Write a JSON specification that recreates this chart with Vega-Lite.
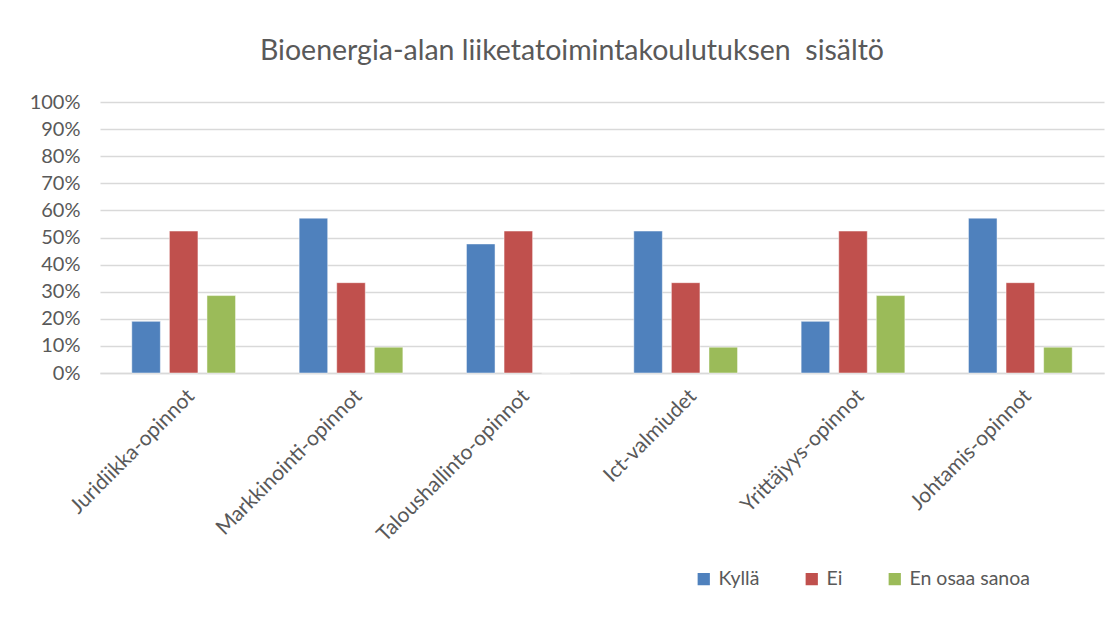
{
  "$schema": "https://vega.github.io/schema/vega-lite/v6.json",
  "autosize": "none",
  "width": 1004,
  "height": 271,
  "padding": {"left": 100, "top": 102, "right": 16, "bottom": 252},
  "background": "white",
  "title": {
    "text": "Bioenergia-alan liiketatoimintakoulutuksen\u00a0 sisältö",
    "font": "Lato",
    "fontSize": 28.5,
    "fontWeight": "normal",
    "color": "#595959",
    "anchor": "middle",
    "dx": -30,
    "offset": 27
  },
  "data": {
    "values": [
      {"kategoria": "Juridiikka-opinnot", "vastaus": "Kyllä", "osuus": 0.1905},
      {"kategoria": "Juridiikka-opinnot", "vastaus": "Ei", "osuus": 0.5238},
      {"kategoria": "Juridiikka-opinnot", "vastaus": "En osaa sanoa", "osuus": 0.2857},
      {"kategoria": "Markkinointi-opinnot", "vastaus": "Kyllä", "osuus": 0.5714},
      {"kategoria": "Markkinointi-opinnot", "vastaus": "Ei", "osuus": 0.3333},
      {"kategoria": "Markkinointi-opinnot", "vastaus": "En osaa sanoa", "osuus": 0.0952},
      {"kategoria": "Taloushallinto-opinnot", "vastaus": "Kyllä", "osuus": 0.4762},
      {"kategoria": "Taloushallinto-opinnot", "vastaus": "Ei", "osuus": 0.5238},
      {"kategoria": "Taloushallinto-opinnot", "vastaus": "En osaa sanoa", "osuus": 0},
      {"kategoria": "Ict-valmiudet", "vastaus": "Kyllä", "osuus": 0.5238},
      {"kategoria": "Ict-valmiudet", "vastaus": "Ei", "osuus": 0.3333},
      {"kategoria": "Ict-valmiudet", "vastaus": "En osaa sanoa", "osuus": 0.0952},
      {"kategoria": "Yrittäjyys-opinnot", "vastaus": "Kyllä", "osuus": 0.1905},
      {"kategoria": "Yrittäjyys-opinnot", "vastaus": "Ei", "osuus": 0.5238},
      {"kategoria": "Yrittäjyys-opinnot", "vastaus": "En osaa sanoa", "osuus": 0.2857},
      {"kategoria": "Johtamis-opinnot", "vastaus": "Kyllä", "osuus": 0.5714},
      {"kategoria": "Johtamis-opinnot", "vastaus": "Ei", "osuus": 0.3333},
      {"kategoria": "Johtamis-opinnot", "vastaus": "En osaa sanoa", "osuus": 0.0952}
    ]
  },
  "mark": {"type": "bar", "stroke": "white", "strokeWidth": 0.8, "strokeOpacity": 0.6},
  "encoding": {
    "x": {
      "field": "kategoria",
      "type": "nominal",
      "sort": null,
      "title": null,
      "scale": {"paddingInner": 0.38, "paddingOuter": 0.19},
      "axis": {
        "labelAngle": -45,
        "labelFont": "Lato",
        "labelFontSize": 21,
        "labelColor": "#595959",
        "labelPadding": 12,
        "labelLimit": 0,
        "labelOverlap": false,
        "ticks": false,
        "domain": true,
        "domainColor": "#d9d9d9",
        "domainWidth": 1.5,
        "grid": false
      }
    },
    "xOffset": {
      "field": "vastaus",
      "type": "nominal",
      "sort": ["Kyllä", "Ei", "En osaa sanoa"],
      "scale": {"paddingInner": 0.24, "paddingOuter": 0}
    },
    "y": {
      "field": "osuus",
      "type": "quantitative",
      "title": null,
      "scale": {"domain": [0, 1], "nice": false},
      "axis": {
        "format": ".0%",
        "values": [0, 0.1, 0.2, 0.3, 0.4, 0.5, 0.6, 0.7, 0.8, 0.9, 1],
        "labelFont": "Lato",
        "labelFontSize": 20,
        "labelColor": "#595959",
        "labelPadding": 20,
        "ticks": false,
        "domain": false,
        "grid": true,
        "gridColor": "#d9d9d9",
        "gridWidth": 1.5
      }
    },
    "color": {
      "field": "vastaus",
      "type": "nominal",
      "sort": ["Kyllä", "Ei", "En osaa sanoa"],
      "scale": {"domain": ["Kyllä", "Ei", "En osaa sanoa"], "range": ["#4f81bd", "#c0504d", "#9bbb59"]},
      "legend": {
        "title": null,
        "orient": "none",
        "legendX": 594,
        "legendY": 467,
        "direction": "horizontal",
        "symbolType": "square",
        "symbolSize": 150,
        "symbolStrokeWidth": 0,
        "labelFont": "Lato",
        "labelFontSize": 19.5,
        "labelColor": "#595959",
        "labelOffset": 5,
        "columnPadding": 42
      }
    }
  },
  "config": {"view": {"stroke": null}}
}
